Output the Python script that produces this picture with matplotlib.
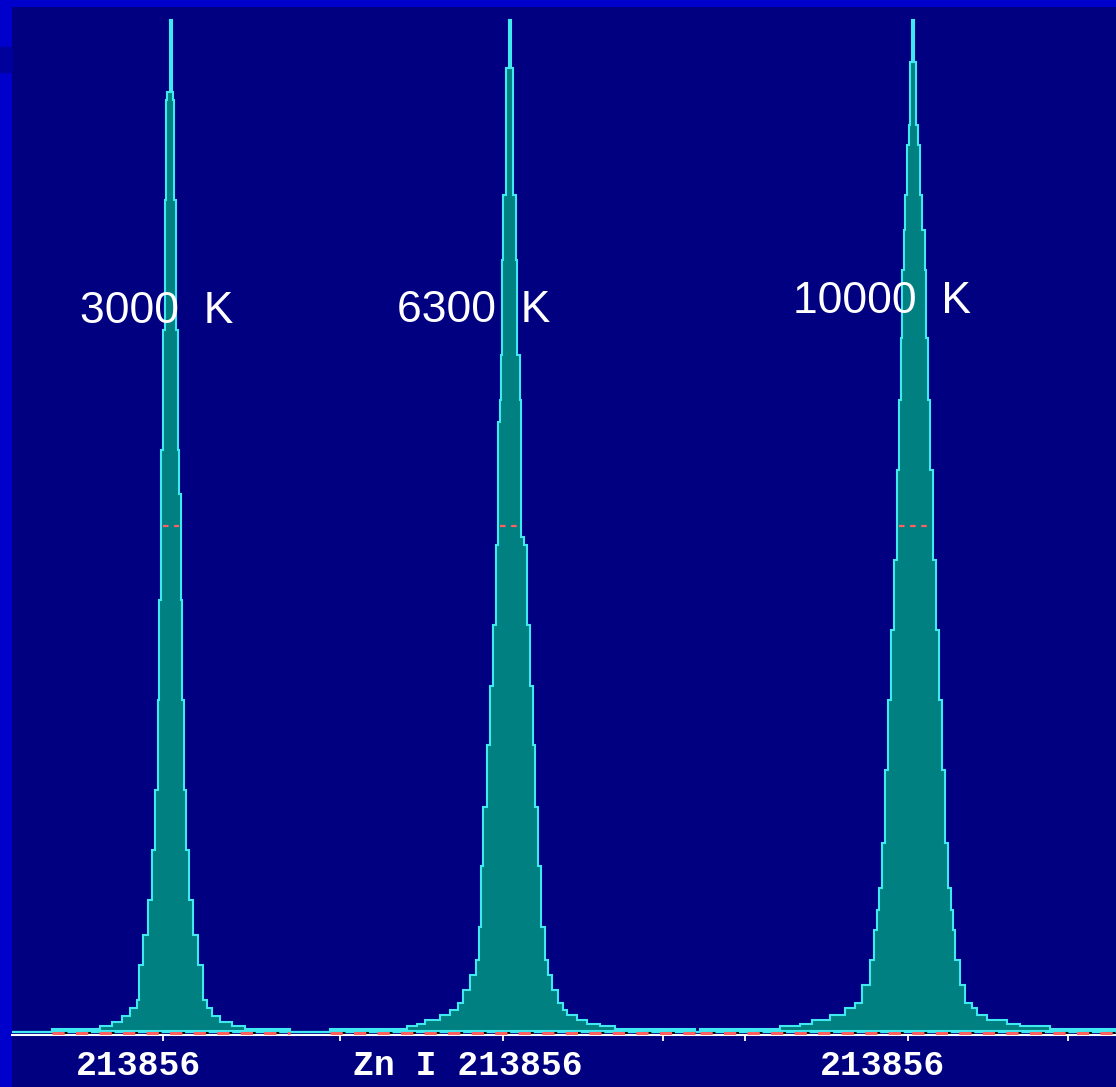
import matplotlib.pyplot as plt
from matplotlib.patches import Rectangle

# line profiles: step tops (intensity, counts) with left/right edge per step
p1_tops = [2, 5, 9, 15, 23, 31, 66, 96, 131, 181, 241, 331, 431, 537, 581, 701, 831, 931, 939, 1011]
p1_left = [52, 100, 112, 122, 130, 137, 139, 143, 148, 152, 155, 158, 159, 161, 161, 163, 165, 166, 167, 169.5]
p1_right = [290, 245, 232, 220, 212, 207, 203, 198, 193, 189, 186, 184, 182, 181, 179, 178, 176, 174, 173, 171.5]

p2_tops = [2, 5, 7, 11, 16, 21, 28, 41, 56, 71, 104, 165, 224, 286, 345, 406, 486, 494, 609, 631, 676, 771, 836, 963, 1011]
p2_left = [330, 407, 417, 425, 440, 450, 458, 463, 470, 476, 479, 481, 483, 487, 490, 493, 496, 498, 498, 500, 501, 502, 503, 506, 508.5]
p2_right = [695, 615, 600, 587, 577, 567, 563, 558, 552, 548, 545, 541, 538, 535, 533, 530, 527, 524, 521, 521, 520, 517, 516, 512.5, 510.5]

p3_tops = [2, 5, 7, 11, 16, 23, 28, 46, 71, 101, 121, 143, 188, 261, 331, 401, 471, 561, 631, 693, 761, 801, 836, 886, 906, 969, 1011]
p3_left = [700, 780, 800, 812, 830, 845, 855, 862, 870, 874, 877, 879, 882, 885, 888, 891, 894, 897, 899, 901, 902, 904, 905, 907, 909, 910, 912]
p3_right = [1116, 1050, 1020, 1007, 987, 977, 972, 965, 960, 955, 953, 951, 948, 945, 942, 939, 936, 933, 930, 928, 926, 925, 922, 920, 918, 916, 914]

peak_labels = ['3000  K', '6300  K', '10000  K']
label_x = [80, 397, 793]
label_y = [708, 709, 718]

tick_pos = [163, 340, 503, 663, 745, 908, 1068]
axis_labels = ['213856', 'Zn I 213856', '213856']
axis_label_x = [139, 468, 883]

NAVY = '#000080'
BORDER = '#0000CC'
TEAL = '#008080'
CYAN = '#40E8F0'
RED = '#FF6060'


def outline(tops, lefts, rights):
    xs, ys = [lefts[0]], [0]
    prev = 0
    for t, l in zip(tops, lefts):
        xs += [l, l]
        ys += [prev, t]
        prev = t
    for i in reversed(range(len(tops))):
        bottom = tops[i - 1] if i > 0 else 0
        xs += [rights[i], rights[i]]
        ys += [tops[i], bottom]
    return xs, ys


fig = plt.figure(figsize=(11.16, 10.87), dpi=100, facecolor=BORDER)
fig.patches.append(Rectangle((0, (1087 - 72) / 1087), 12 / 1116, 25 / 1087,
                             transform=fig.transFigure, color='#00009A', zorder=0))
ax = fig.add_axes([12 / 1116, 0, 1104 / 1116, 1080 / 1087], facecolor=NAVY)
ax.set_xlim(12, 1116)
ax.set_ylim(-56, 1024)

# baseline line
ax.axhline(-1, color=CYAN, lw=1.6, zorder=1)

profiles = [(p1_tops, p1_left, p1_right), (p2_tops, p2_left, p2_right), (p3_tops, p3_left, p3_right)]
for tops, lefts, rights in profiles:
    xs, ys = outline(tops, lefts, rights)
    ax.fill(xs, ys, facecolor=TEAL, edgecolor=CYAN, lw=1.5, joinstyle='miter', zorder=2)
    # baseline dashes over the window
    ax.plot([lefts[0], rights[0]], [-2, -2], color='black', lw=2.2,
            linestyle=(5, (2.2, 5.5)), zorder=3)
    ax.plot([lefts[0], rights[0]], [-2, -2], color=RED, lw=2.2,
            linestyle=(0, (4.0, 3.7)), zorder=4)
    # half maximum marker
    half = max(tops) / 2
    i = next(k for k, t in enumerate(tops) if t >= half)
    ax.plot([lefts[i] + 2, rights[i] - 2], [half, half], color=RED, lw=1.6,
            linestyle=(0, (2.5, 2.5)), zorder=4)

for txt, x, y in zip(peak_labels, label_x, label_y):
    ax.text(x, y, txt, color='white', fontsize=32, family='Liberation Sans',
            ha='left', va='baseline', zorder=5)

for txt, x in zip(axis_labels, axis_label_x):
    ax.text(x, -44, txt, color='white', fontsize=25, family='Liberation Mono',
            fontweight='bold', ha='center', va='baseline', zorder=5)

for s in ['top', 'left', 'right']:
    ax.spines[s].set_visible(False)
ax.spines['bottom'].set_position(('data', -4))
ax.spines['bottom'].set_color('white')
ax.spines['bottom'].set_linewidth(1.5)
ax.spines['bottom'].set_zorder(3)
ax.set_xticks(tick_pos)
ax.set_xticklabels([])
ax.tick_params(axis='x', direction='out', length=4.5, width=1.3, color='white')
ax.set_yticks([])

plt.savefig('out.png', dpi=100, facecolor=BORDER)
